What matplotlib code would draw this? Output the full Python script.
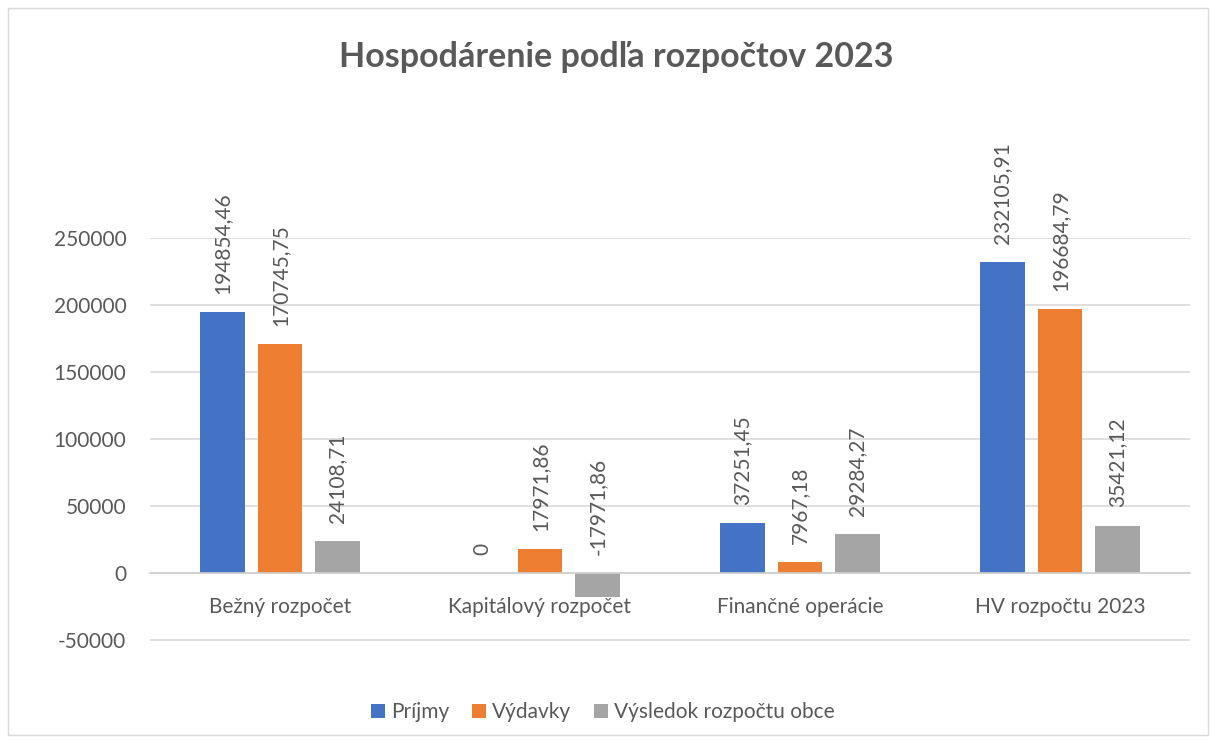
import matplotlib
matplotlib.use("Agg")
import matplotlib.pyplot as plt
import numpy as np

kategorie = ["Bežný rozpočet", "Kapitálový rozpočet", "Finančné operácie", "HV rozpočtu 2023"]
prijmy = [194854.46, 0, 37251.45, 232105.91]
vydavky = [170745.75, 17971.86, 7967.18, 196684.79]
vysledok = [24108.71, -17971.86, 29284.27, 35421.12]
serie = ["Príjmy", "Výdavky", "Výsledok rozpočtu obce"]
farby = ["#4472C4", "#ED7D31", "#A5A5A5"]

plt.rcParams["font.family"] = ["Lato", "DejaVu Sans"]
text_farba = "#595959"

fig = plt.figure(figsize=(12.16, 7.4), dpi=100)
# os: 250000 na y=238 px, 0 na y=573 px, spodok -51000
px_na_jednotku = 335 / 250000
spodok = 573 + 51000 * px_na_jednotku
ax = fig.add_axes([150 / 1216, 1 - spodok / 740, 1040 / 1216, (spodok - 238) / 740])

# okraj grafu
fig.patches.append(plt.Rectangle((8 / 1216, 5 / 740), 1200 / 1216, 727 / 740,
                                 transform=fig.transFigure, fill=False,
                                 edgecolor="#d9d9d9", linewidth=1))

x = np.arange(len(kategorie))
sirka = 0.173
krok = 0.221

for i, (hodnoty, nazov) in enumerate(zip([prijmy, vydavky, vysledok], serie)):
    pos = x + (i - 1) * krok
    ax.bar(pos, hodnoty, width=sirka, color=farby[i], label=nazov, zorder=3)
    for px, v in zip(pos, hodnoty):
        txt = f"{v:.2f}".replace(".", ",") if v != 0 else "0"
        ax.annotate(txt, (px, max(v, 0)), xytext=(0, 13), textcoords="offset points",
                    rotation=90, ha="center", va="bottom", fontsize=15, color=text_farba)

ax.set_ylim(-51000, 250000)
ax.set_xlim(-0.5, 3.5)
ax.set_yticks(range(-50000, 250001, 50000))
ax.set_yticklabels([str(t) for t in range(-50000, 250001, 50000)])
ax.yaxis.grid(True, color="#d9d9d9", linewidth=1.2, zorder=0)

ax.set_xticks(x)
ax.set_xticklabels(kategorie)
for s in ["top", "right", "left"]:
    ax.spines[s].set_visible(False)
ax.spines["bottom"].set_position(("data", 0))
ax.spines["bottom"].set_color("#d0d0d0")
ax.spines["bottom"].set_linewidth(1.2)
ax.spines["bottom"].set_zorder(4)
ax.tick_params(axis="y", length=0, pad=17, labelsize=15, labelcolor=text_farba)
ax.tick_params(axis="x", length=0, pad=17, labelsize=15, labelcolor=text_farba)

fig.text(616 / 1216, 1 - 57 / 740, "Hospodárenie podľa rozpočtov 2023", ha="center", va="center",
         fontsize=24.5, fontweight="bold", color=text_farba)

fig.legend(loc="center", bbox_to_anchor=(603 / 1216, 1 - 712 / 740), ncol=3, frameon=False,
           fontsize=15, labelcolor=text_farba, handlelength=0.65, handleheight=0.65,
           columnspacing=1.1, handletextpad=0.3)

fig.savefig("out.png", dpi=100)
